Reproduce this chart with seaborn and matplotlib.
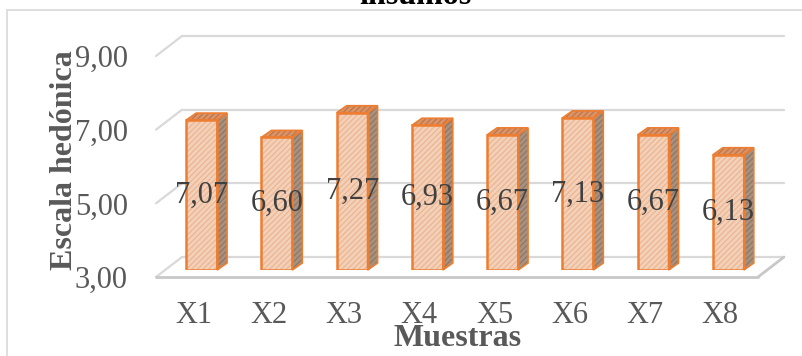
import numpy as np
import pandas as pd
import matplotlib
matplotlib.use("Agg")
import matplotlib.pyplot as plt
from matplotlib.patches import Polygon, Rectangle
from matplotlib.transforms import ScaledTranslation
import seaborn as sns

# datos
muestras = ["X1", "X2", "X3", "X4", "X5", "X6", "X7", "X8"]
valores = [7.07, 6.60, 7.27, 6.93, 6.67, 7.13, 6.67, 6.13]
ticks_y = [3, 5, 7, 9]

df = pd.DataFrame({"Muestra": muestras, "Valor": valores})

sns.set_theme(style="white")
plt.rcParams["font.family"] = ["Liberation Serif", "DejaVu Serif"]
plt.rcParams["hatch.linewidth"] = 0.9

W, H = 802, 356
fig = plt.figure(figsize=(W / 100, H / 100), dpi=100)
# plano de las barras (pixeles medidos en la referencia)
ax = fig.add_axes([164 / W, (H - 270) / H, 602 / W, 221 / H])

ax.set_xlim(-0.5, 7.5)
ax.set_ylim(3, 9)
px_x = 602 / 8.0   # pixeles por categoria
px_y = 221 / 6.0   # pixeles por unidad

def ux(px):
    return px / px_x

def uy(px):
    return px / px_y

grid_col = "#D9D9D9"
# pared del fondo
bx, by = ux(18), uy(13)
for v in ticks_y:
    ax.plot([-0.5 + bx, 7.5 + bx], [v + by, v + by], color=grid_col, lw=1.6,
            clip_on=False, zorder=0)
# diagonales laterales
fx, fy = ux(-8), uy(-7)
for v in ticks_y:
    ax.plot([-0.5 + fx, -0.5 + bx], [v + fy, v + by], color=grid_col, lw=1.6,
            clip_on=False, zorder=0)
# piso
ax.plot([-0.5 + fx, 7.5 + fx], [3 + fy, 3 + fy], color="#C8C8C8", lw=2,
        clip_on=False, zorder=0)
ax.plot([7.5 + fx, 7.5 + bx], [3 + fy, 3 + by], color="#C8C8C8", lw=2,
        clip_on=False, zorder=0)

sns.barplot(data=df, x="Muestra", y="Valor", ax=ax, width=0.41,
            color="#F9D0B3", edgecolor="#F2B48C", linewidth=0, hatch="//////",
            zorder=2)
# caras laterales y superiores para el efecto 3D
dx, dy = ux(10), uy(7)
for p in ax.patches:
    x0 = p.get_x()
    w = p.get_width()
    h = p.get_height()
    base = 3
    side = Polygon([[x0 + w, base], [x0 + w, h], [x0 + w + dx, h + dy],
                    [x0 + w + dx, base + dy]], closed=True, facecolor="#A8917F",
                   edgecolor="#8E7767", hatch="//////", lw=0, zorder=1.9,
                   clip_on=False)
    top = Polygon([[x0, h], [x0 + w, h], [x0 + w + dx, h + dy], [x0 + dx, h + dy]],
                  closed=True, facecolor="#DA9468", edgecolor="#C07548",
                  hatch="//////", lw=0, zorder=1.9, clip_on=False)
    ax.add_patch(side)
    ax.add_patch(top)
    for poly in (side, top):
        ax.add_patch(Polygon(poly.get_xy(), closed=True, fill=False,
                             edgecolor="#ED7D31", lw=1.2, zorder=2.1,
                             clip_on=False))
    ax.add_patch(Rectangle((x0, base), w, h - base, fill=False,
                           edgecolor="#ED7D31", lw=1.8, zorder=2.2))

etiquetas = [f"{v:.2f}".replace(".", ",") for v in valores]
for p, t in zip(ax.patches[:len(valores)], etiquetas):
    ax.text(p.get_x() + p.get_width() / 2, (3 + p.get_height()) / 2, t,
            ha="center", va="center", fontsize=22, color="#404040", zorder=3)

for s in ax.spines.values():
    s.set_visible(False)
ax.tick_params(length=0)
ax.set_yticks(ticks_y)
ax.set_yticklabels([f"{v:.2f}".replace(".", ",") for v in ticks_y],
                   fontsize=22, color="#595959")
ax.tick_params(axis="y", pad=26)
ax.set_xticks(range(len(muestras)))
ax.set_xticklabels(muestras, fontsize=22, color="#595959")
ax.tick_params(axis="x", pad=22)
off_y = ScaledTranslation(0, -0.07, fig.dpi_scale_trans)
off_x = ScaledTranslation(-0.08, 0, fig.dpi_scale_trans)
for lab in ax.get_yticklabels():
    lab.set_transform(lab.get_transform() + off_y)
for lab in ax.get_xticklabels():
    lab.set_transform(lab.get_transform() + off_x)

ax.set_xlabel("Muestras", fontsize=23, fontweight="bold", color="#595959",
              va="center")
ax.xaxis.set_label_coords(0.487, -0.31)
ax.set_ylabel("Escala hedónica", fontsize=23, fontweight="bold",
              color="#595959", va="center")
ax.yaxis.set_label_coords(-0.166, 0.498)

fig.text(415 / W, 1 - 3.5 / H, "insumos", ha="center", va="baseline",
         fontsize=23, fontweight="bold", color="black")
fig.add_artist(Rectangle((7 / W, -0.05), 1.2, (H - 10) / H + 0.05,
                         transform=fig.transFigure, fill=False,
                         edgecolor="#D9D9D9", lw=1.2))

fig.savefig("out.png", dpi=100)
